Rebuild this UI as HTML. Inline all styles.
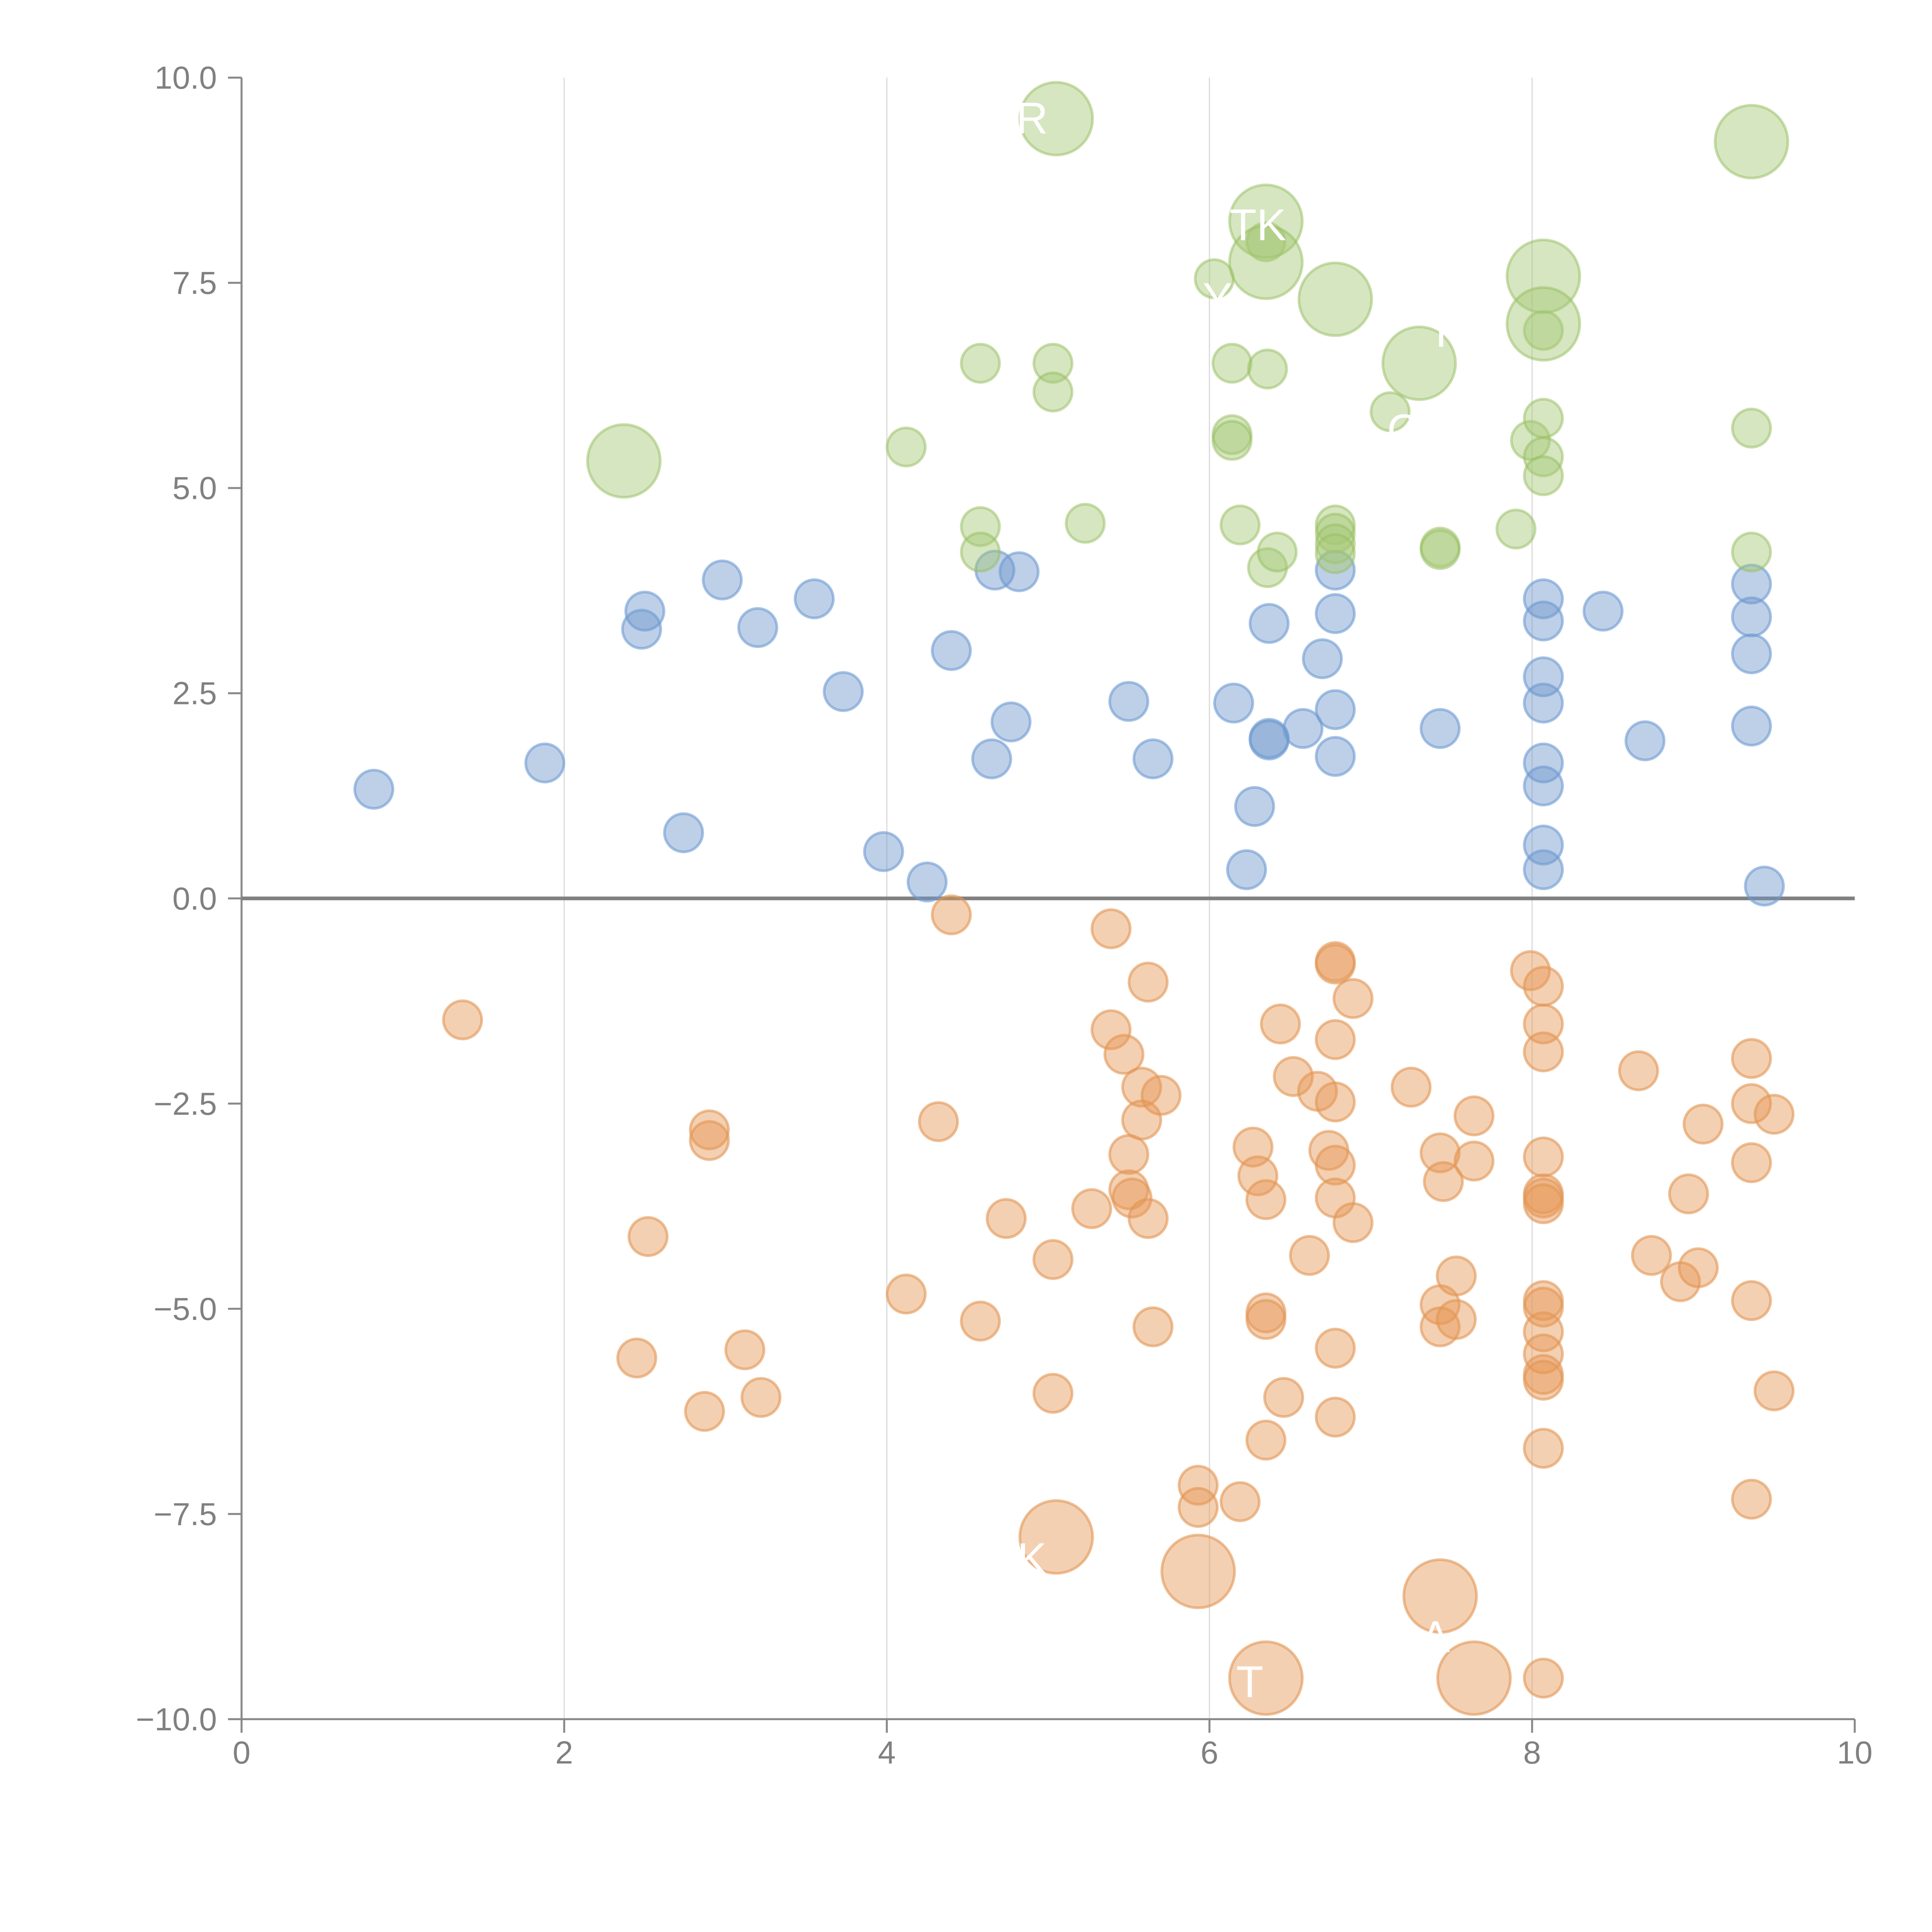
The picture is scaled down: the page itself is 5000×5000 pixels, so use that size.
<!DOCTYPE html>
<html><head><meta charset="utf-8"><style>
html,body{margin:0;padding:0;background:#fff;}
svg{display:block;font-family:"Liberation Sans",sans-serif;}
</style></head><body>
<svg id="chart" width="5000" height="5000" viewBox="0 0 1567.7 1567.7" xmlns="http://www.w3.org/2000/svg">
<g id="grid"></g>
<g id="axes"></g>
<g id="marks"></g>
<g id="labels"></g>
</svg>
<script>
const xTicks=[0,2,4,6,8,10];
const yTicks=[-10,-7.5,-5,-2.5,0,2.5,5,7.5,10];
const blueX=[0.82,1.88,2.5,2.48,2.74,2.98,3.2,3.55,3.73,3.98,4.25,4.4,4.65,4.67,4.77,4.82,5.5,5.65,6.15,6.23,6.28,6.37,6.37,6.37,6.58,6.7,6.78,6.78,6.78,6.78,7.43,8.07,8.07,8.07,8.07,8.07,8.07,8.07,8.07,8.44,8.7,9.36,9.36,9.36,9.36,9.44];
const blueY=[1.33,1.65,3.5,3.28,0.8,3.88,3.3,3.65,2.52,0.57,0.2,3.02,1.7,4.0,2.15,3.98,2.4,1.7,2.38,0.35,1.12,3.35,1.93,1.95,2.07,2.92,4.0,3.47,2.3,1.73,2.07,3.65,3.38,2.7,2.38,1.65,1.37,0.65,0.35,3.5,1.92,3.83,3.43,2.98,2.1,0.15];
const greenX=[4.12,4.58,4.58,4.58,5.03,5.03,5.23,6.03,6.14,6.14,6.14,6.19,6.36,6.36,6.42,6.35,6.78,6.78,6.78,6.78,7.12,7.43,7.43,7.9,7.99,8.07,8.07,8.07,8.07,9.36,9.36];
const greenY=[5.5,6.52,4.53,4.22,6.52,6.17,4.57,7.55,6.52,5.65,5.58,4.55,6.45,4.03,4.22,8.0,4.55,4.45,4.32,4.2,5.93,4.28,4.25,4.5,5.58,5.85,5.38,5.15,6.92,5.73,4.22];
const greenBigX=[2.37,5.05,6.35,6.35,6.78,7.3,8.07,8.07,9.36];
const greenBigY=[5.33,9.5,8.25,7.75,7.3,6.52,7.58,7.0,9.22];
const orangeX=[1.37,2.52,2.45,2.87,2.9,2.9,3.12,3.22,4.12,4.32,4.4,4.58,4.74,5.03,5.03,5.27,5.39,5.39,5.47,5.5,5.5,5.52,5.58,5.58,5.62,5.62,5.65,5.7,5.93,5.93,6.19,6.27,6.3,6.35,6.35,6.35,6.35,6.44,6.46,6.52,6.62,6.67,6.74,6.78,6.78,6.78,6.78,6.78,6.78,6.78,6.78,6.89,6.89,7.25,7.43,7.45,7.43,7.43,7.53,7.53,7.64,7.64,7.99,8.07,8.07,8.07,8.07,8.07,8.07,8.07,8.07,8.07,8.07,8.07,8.07,8.07,8.07,8.07,8.66,8.74,8.92,9.03,9.06,8.97,9.36,9.36,9.36,9.36,9.36,9.5,9.5];
const orangeY=[-1.48,-4.12,-5.6,-6.25,-2.82,-2.95,-5.5,-6.08,-4.82,-2.72,-0.2,-5.15,-3.9,-4.4,-6.03,-3.78,-0.37,-1.6,-1.9,-3.12,-3.55,-3.65,-2.3,-2.7,-1.02,-3.9,-5.22,-2.4,-7.15,-7.42,-7.35,-3.03,-3.38,-3.67,-5.05,-5.13,-6.6,-1.53,-6.08,-2.17,-4.35,-2.35,-3.07,-0.77,-0.8,-1.72,-2.48,-3.25,-3.65,-5.48,-6.32,-3.95,-1.22,-2.3,-3.1,-3.45,-4.95,-5.22,-5.13,-4.6,-2.65,-3.2,-0.88,-1.07,-1.53,-1.87,-3.15,-3.6,-3.65,-3.72,-4.9,-4.98,-5.28,-5.55,-5.8,-5.87,-6.7,-9.5,-2.1,-4.35,-4.67,-4.5,-2.75,-3.6,-1.95,-2.5,-3.22,-4.9,-7.32,-2.63,-6.0];
const orangeBigX=[5.05,5.93,6.35,7.43,7.64];
const orangeBigY=[-7.78,-8.2,-9.5,-8.5,-9.5];

const NS="http://www.w3.org/2000/svg";
const X0=196,X1=1505,Y0=1395,Y1=63;
function sx(v){return X0+(v-0)/(10-0)*(X1-X0);}
function sy(v){return Y0-(v+10)/20*(Y0-Y1);}
function mk(tag,attrs,parent){const e=document.createElementNS(NS,tag);for(const k in attrs)e.setAttribute(k,attrs[k]);parent.appendChild(e);return e;}
const grid=document.getElementById('grid'),axes=document.getElementById('axes'),marks=document.getElementById('marks'),labels=document.getElementById('labels');

xTicks.forEach(t=>{
  if(t>0&&t<10){
    const g=mk('line',{x1:sx(t),x2:sx(t),y1:Y1,y2:Y0,stroke:'#dcdcdc','stroke-width':1},grid);
    
    
  }
  const tk=mk('line',{x1:sx(t),x2:sx(t),y1:Y0,y2:Y0+11,stroke:'#888','stroke-width':1.6},axes);
  
  
  const tx=mk('text',{x:sx(t),y:Y0+36,'text-anchor':'middle','font-size':26,fill:'#808080'},axes);
  tx.textContent=String(t);
  
  
});
yTicks.forEach(t=>{
  const tk=mk('line',{x1:X0-11,x2:X0,y1:sy(t),y2:sy(t),stroke:'#888','stroke-width':1.6},axes);
  
  
  const tx=mk('text',{x:X0-20,y:sy(t)+9,'text-anchor':'end','font-size':26,fill:'#808080'},axes);
  tx.textContent=(t<0?'\u2212':'')+Math.abs(t).toFixed(1);
  
  
});
const ya=mk('line',{x1:X0,x2:X0,y1:Y1,y2:Y0,stroke:'#888','stroke-width':1.6},axes);


const xa=mk('line',{x1:X0,x2:X1,y1:Y0,y2:Y0,stroke:'#888','stroke-width':1.6},axes);


const zl=mk('line',{x1:X0,x2:X1,y1:sy(0),y2:sy(0),stroke:'#808080','stroke-width':3},axes);



function series(xs,ys,r,fill,stroke,name){
  xs.forEach((x,i)=>{
    const c=mk('circle',{cx:sx(x),cy:sy(ys[i]),r:r,fill:fill,stroke:stroke,'stroke-width':2.2},marks);
    
    
  });
}
series(blueX,blueY,15.5,'rgba(110,150,205,0.45)','rgba(110,155,210,0.6)','blue-bubble');
series(greenX,greenY,15.5,'rgba(165,200,115,0.45)','rgba(150,190,95,0.5)','green-bubble');
series(greenBigX,greenBigY,29.5,'rgba(165,200,115,0.45)','rgba(150,190,95,0.5)','green-large-bubble');
series(orangeX,orangeY,15.5,'rgba(230,150,85,0.45)','rgba(225,150,85,0.6)','orange-bubble');
series(orangeBigX,orangeBigY,29.5,'rgba(230,150,85,0.45)','rgba(225,150,85,0.6)','orange-large-bubble');

const labelText=['R','TK','Y','R','C','K','A','T'];
const labelX=[4.9,6.3,6.05,7.5,7.2,4.9,7.4,6.25];
const labelY=[9.5,8.2,7.3,6.9,5.7,-8.05,-9.0,-9.55];
labelText.forEach((s,i)=>{
  const t=mk('text',{x:sx(labelX[i]),y:sy(labelY[i])+12,'text-anchor':'middle','font-size':36,fill:'#fff'},labels);
  t.textContent=s;
  
  
});
</script>
</body></html>
